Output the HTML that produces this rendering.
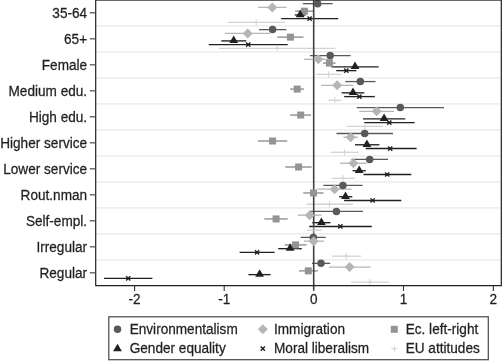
<!DOCTYPE html>
<html><head><meta charset="utf-8"><title>Coefficient plot</title>
<style>
html,body{margin:0;padding:0;background:#fff;}
body{width:502px;height:361px;overflow:hidden;font-family:"Liberation Sans",sans-serif;}
svg{display:block;will-change:transform;opacity:0.999}
text{font-family:"Liberation Sans",sans-serif;font-size:13.6px;fill:#231f20;stroke:#231f20;stroke-width:0.25px}
</style></head><body>
<svg width="502" height="361" viewBox="0 0 502 361">
<rect width="502" height="361" fill="#fff"/>

<g stroke="#eeeff0" stroke-width="1.7">
<line x1="96" y1="25.95" x2="501" y2="25.95"/>
<line x1="96" y1="51.95" x2="501" y2="51.95"/>
<line x1="96" y1="77.95" x2="501" y2="77.95"/>
<line x1="96" y1="103.95" x2="501" y2="103.95"/>
<line x1="96" y1="129.95" x2="501" y2="129.95"/>
<line x1="96" y1="155.95" x2="501" y2="155.95"/>
<line x1="96" y1="181.95" x2="501" y2="181.95"/>
<line x1="96" y1="207.95" x2="501" y2="207.95"/>
<line x1="96" y1="233.95" x2="501" y2="233.95"/>
<line x1="96" y1="259.95" x2="501" y2="259.95"/>
</g>
<line x1="302.8" y1="3.65" x2="332.6" y2="3.65" stroke="#58595b" stroke-width="1.3"/>
<line x1="258.2" y1="7.41" x2="286.6" y2="7.41" stroke="#b3b5b7" stroke-width="1.3"/>
<line x1="295.2" y1="11.17" x2="313.6" y2="11.17" stroke="#929497" stroke-width="1.45"/>
<line x1="294.8" y1="14.93" x2="305.7" y2="14.93" stroke="#231f20" stroke-width="1.35"/>
<line x1="281.2" y1="18.69" x2="338.2" y2="18.69" stroke="#231f20" stroke-width="1.35"/>
<line x1="227.6" y1="22.45" x2="284.8" y2="22.45" stroke="#d1d3d4" stroke-width="1.3"/>
<line x1="259" y1="29.62" x2="286.4" y2="29.62" stroke="#58595b" stroke-width="1.3"/>
<line x1="225.1" y1="33.38" x2="270.3" y2="33.38" stroke="#b3b5b7" stroke-width="1.3"/>
<line x1="277.3" y1="37.14" x2="303.5" y2="37.14" stroke="#929497" stroke-width="1.45"/>
<line x1="221.3" y1="40.9" x2="246.3" y2="40.9" stroke="#231f20" stroke-width="1.35"/>
<line x1="208.8" y1="44.66" x2="287.8" y2="44.66" stroke="#231f20" stroke-width="1.35"/>
<line x1="219" y1="48.42" x2="335.6" y2="48.42" stroke="#d1d3d4" stroke-width="1.3"/>
<line x1="310" y1="55.59" x2="350.6" y2="55.59" stroke="#58595b" stroke-width="1.3"/>
<line x1="303.8" y1="59.35" x2="332.6" y2="59.35" stroke="#b3b5b7" stroke-width="1.3"/>
<line x1="323" y1="63.11" x2="335.6" y2="63.11" stroke="#929497" stroke-width="1.45"/>
<line x1="331.4" y1="66.87" x2="378.6" y2="66.87" stroke="#231f20" stroke-width="1.35"/>
<line x1="336.3" y1="70.63" x2="356.4" y2="70.63" stroke="#231f20" stroke-width="1.35"/>
<line x1="316.2" y1="74.39" x2="341.2" y2="74.39" stroke="#d1d3d4" stroke-width="1.3"/>
<line x1="345.3" y1="81.56" x2="375.5" y2="81.56" stroke="#58595b" stroke-width="1.3"/>
<line x1="321.1" y1="85.32" x2="353.4" y2="85.32" stroke="#b3b5b7" stroke-width="1.3"/>
<line x1="290.2" y1="89.08" x2="304" y2="89.08" stroke="#929497" stroke-width="1.45"/>
<line x1="341.7" y1="92.84" x2="364.3" y2="92.84" stroke="#231f20" stroke-width="1.35"/>
<line x1="344.2" y1="96.6" x2="374.8" y2="96.6" stroke="#231f20" stroke-width="1.35"/>
<line x1="328.4" y1="100.36" x2="341.1" y2="100.36" stroke="#d1d3d4" stroke-width="1.3"/>
<line x1="356.8" y1="107.53" x2="444" y2="107.53" stroke="#58595b" stroke-width="1.3"/>
<line x1="359.3" y1="111.29" x2="394" y2="111.29" stroke="#b3b5b7" stroke-width="1.3"/>
<line x1="290.2" y1="115.05" x2="311" y2="115.05" stroke="#929497" stroke-width="1.45"/>
<line x1="363" y1="118.81" x2="405.3" y2="118.81" stroke="#231f20" stroke-width="1.35"/>
<line x1="364.3" y1="122.57" x2="414.6" y2="122.57" stroke="#231f20" stroke-width="1.35"/>
<line x1="346.8" y1="126.33" x2="383" y2="126.33" stroke="#d1d3d4" stroke-width="1.3"/>
<line x1="336.5" y1="133.5" x2="393" y2="133.5" stroke="#58595b" stroke-width="1.3"/>
<line x1="343.4" y1="137.26" x2="358" y2="137.26" stroke="#b3b5b7" stroke-width="1.3"/>
<line x1="257.9" y1="141.02" x2="287.2" y2="141.02" stroke="#929497" stroke-width="1.45"/>
<line x1="355" y1="144.78" x2="379.4" y2="144.78" stroke="#231f20" stroke-width="1.35"/>
<line x1="365.6" y1="148.54" x2="416.6" y2="148.54" stroke="#231f20" stroke-width="1.35"/>
<line x1="330.8" y1="152.3" x2="358.6" y2="152.3" stroke="#d1d3d4" stroke-width="1.3"/>
<line x1="351.5" y1="159.47" x2="388" y2="159.47" stroke="#58595b" stroke-width="1.3"/>
<line x1="340" y1="163.23" x2="366.6" y2="163.23" stroke="#b3b5b7" stroke-width="1.3"/>
<line x1="285.3" y1="166.99" x2="311.7" y2="166.99" stroke="#929497" stroke-width="1.45"/>
<line x1="352.5" y1="170.75" x2="365.8" y2="170.75" stroke="#231f20" stroke-width="1.35"/>
<line x1="363.5" y1="174.51" x2="411.3" y2="174.51" stroke="#231f20" stroke-width="1.35"/>
<line x1="331.6" y1="178.27" x2="354.7" y2="178.27" stroke="#d1d3d4" stroke-width="1.3"/>
<line x1="323.3" y1="185.44" x2="362.5" y2="185.44" stroke="#58595b" stroke-width="1.3"/>
<line x1="317.3" y1="189.2" x2="351.7" y2="189.2" stroke="#b3b5b7" stroke-width="1.3"/>
<line x1="303.2" y1="192.96" x2="323.5" y2="192.96" stroke="#929497" stroke-width="1.45"/>
<line x1="339.1" y1="196.72" x2="352.3" y2="196.72" stroke="#231f20" stroke-width="1.35"/>
<line x1="344.1" y1="200.48" x2="401.3" y2="200.48" stroke="#231f20" stroke-width="1.35"/>
<line x1="306.5" y1="204.24" x2="352.9" y2="204.24" stroke="#d1d3d4" stroke-width="1.3"/>
<line x1="309.8" y1="211.41" x2="363" y2="211.41" stroke="#58595b" stroke-width="1.3"/>
<line x1="297.7" y1="215.17" x2="321.5" y2="215.17" stroke="#b3b5b7" stroke-width="1.3"/>
<line x1="264.3" y1="218.93" x2="287.7" y2="218.93" stroke="#929497" stroke-width="1.45"/>
<line x1="312.2" y1="222.69" x2="330.4" y2="222.69" stroke="#231f20" stroke-width="1.35"/>
<line x1="309.2" y1="226.45" x2="371.8" y2="226.45" stroke="#231f20" stroke-width="1.35"/>
<line x1="307" y1="230.21" x2="321.8" y2="230.21" stroke="#d1d3d4" stroke-width="1.3"/>
<line x1="300.7" y1="237.38" x2="325.7" y2="237.38" stroke="#58595b" stroke-width="1.3"/>
<line x1="304" y1="241.14" x2="324.2" y2="241.14" stroke="#b3b5b7" stroke-width="1.3"/>
<line x1="284.6" y1="244.9" x2="306.6" y2="244.9" stroke="#929497" stroke-width="1.45"/>
<line x1="278.2" y1="248.66" x2="301.8" y2="248.66" stroke="#231f20" stroke-width="1.35"/>
<line x1="239.6" y1="252.42" x2="274.7" y2="252.42" stroke="#231f20" stroke-width="1.35"/>
<line x1="331.6" y1="256.18" x2="361" y2="256.18" stroke="#d1d3d4" stroke-width="1.3"/>
<line x1="312" y1="263.35" x2="330.2" y2="263.35" stroke="#58595b" stroke-width="1.3"/>
<line x1="329" y1="267.11" x2="370.5" y2="267.11" stroke="#b3b5b7" stroke-width="1.3"/>
<line x1="299" y1="270.87" x2="317.8" y2="270.87" stroke="#929497" stroke-width="1.45"/>
<line x1="248.4" y1="274.63" x2="270.6" y2="274.63" stroke="#231f20" stroke-width="1.35"/>
<line x1="104" y1="278.39" x2="152.4" y2="278.39" stroke="#231f20" stroke-width="1.35"/>
<line x1="351" y1="282.15" x2="389" y2="282.15" stroke="#d1d3d4" stroke-width="1.3"/>
<line x1="313.7" y1="0" x2="313.7" y2="290.8" stroke="#414042" stroke-width="1.6"/>
<path d="M253.10 22.45L259.30 22.45M256.2 19.35L256.2 25.55" stroke="#d1d3d4" stroke-width="1" fill="none"/>
<circle cx="317.6" cy="3.65" r="3.75" fill="#58595b"/>
<path d="M267.3 7.41L272.3 2.41L277.3 7.41L272.3 12.41Z" fill="#b3b5b7"/>
<rect x="300.90" y="7.67" width="7.0" height="7.0" fill="#929497"/>
<path d="M295.80 17.13L304.60 17.13L300.2 9.63Z" fill="#231f20"/>
<path d="M307.50 16.59L311.70 20.79M307.50 20.79L311.70 16.59" stroke="#231f20" stroke-width="1.4" fill="none"/>
<path d="M274.10 48.42L280.30 48.42M277.2 45.32L277.2 51.52" stroke="#d1d3d4" stroke-width="1" fill="none"/>
<circle cx="272.6" cy="29.62" r="3.75" fill="#58595b"/>
<path d="M242.7 33.38L247.7 28.380000000000003L252.7 33.38L247.7 38.38Z" fill="#b3b5b7"/>
<rect x="286.90" y="33.64" width="7.0" height="7.0" fill="#929497"/>
<path d="M229.30 43.10L238.10 43.10L233.7 35.60Z" fill="#231f20"/>
<path d="M246.10 42.56L250.30 46.76M246.10 46.76L250.30 42.56" stroke="#231f20" stroke-width="1.4" fill="none"/>
<path d="M325.50 74.39L331.70 74.39M328.6 71.29L328.6 77.49" stroke="#d1d3d4" stroke-width="1" fill="none"/>
<circle cx="330.2" cy="55.59" r="3.75" fill="#58595b"/>
<path d="M313.3 59.35L318.3 54.35L323.3 59.35L318.3 64.35Z" fill="#b3b5b7"/>
<rect x="325.90" y="59.61" width="7.0" height="7.0" fill="#929497"/>
<path d="M350.60 69.07L359.40 69.07L355 61.57Z" fill="#231f20"/>
<path d="M344.20 68.53L348.40 72.73M344.20 72.73L348.40 68.53" stroke="#231f20" stroke-width="1.4" fill="none"/>
<path d="M331.70 100.36L337.90 100.36M334.8 97.26L334.8 103.46" stroke="#d1d3d4" stroke-width="1" fill="none"/>
<circle cx="360.3" cy="81.56" r="3.75" fill="#58595b"/>
<path d="M332.2 85.32L337.2 80.32L342.2 85.32L337.2 90.32Z" fill="#b3b5b7"/>
<rect x="293.70" y="85.58" width="7.0" height="7.0" fill="#929497"/>
<path d="M348.60 95.04L357.40 95.04L353 87.54Z" fill="#231f20"/>
<path d="M357.30 94.50L361.50 98.70M357.30 98.70L361.50 94.50" stroke="#231f20" stroke-width="1.4" fill="none"/>
<path d="M361.90 126.33L368.10 126.33M365 123.23L365 129.43" stroke="#d1d3d4" stroke-width="1" fill="none"/>
<circle cx="400.3" cy="107.53" r="3.75" fill="#58595b"/>
<path d="M371.6 111.29L376.6 106.29L381.6 111.29L376.6 116.29Z" fill="#b3b5b7"/>
<rect x="297.20" y="111.55" width="7.0" height="7.0" fill="#929497"/>
<path d="M379.70 121.01L388.50 121.01L384.1 113.51Z" fill="#231f20"/>
<path d="M387.20 120.47L391.40 124.67M387.20 124.67L391.40 120.47" stroke="#231f20" stroke-width="1.4" fill="none"/>
<path d="M341.50 152.3L347.70 152.3M344.6 149.20L344.6 155.40" stroke="#d1d3d4" stroke-width="1" fill="none"/>
<circle cx="364.7" cy="133.5" r="3.75" fill="#58595b"/>
<path d="M345.6 137.26L350.6 132.26L355.6 137.26L350.6 142.26Z" fill="#b3b5b7"/>
<rect x="269.10" y="137.52" width="7.0" height="7.0" fill="#929497"/>
<path d="M362.50 146.98L371.30 146.98L366.9 139.48Z" fill="#231f20"/>
<path d="M388.10 146.44L392.30 150.64M388.10 150.64L392.30 146.44" stroke="#231f20" stroke-width="1.4" fill="none"/>
<path d="M339.90 178.27L346.10 178.27M343 175.17L343 181.37" stroke="#d1d3d4" stroke-width="1" fill="none"/>
<circle cx="369.7" cy="159.47" r="3.75" fill="#58595b"/>
<path d="M348.4 163.23L353.4 158.23L358.4 163.23L353.4 168.23Z" fill="#b3b5b7"/>
<rect x="295.10" y="163.49" width="7.0" height="7.0" fill="#929497"/>
<path d="M354.80 172.95L363.60 172.95L359.2 165.45Z" fill="#231f20"/>
<path d="M385.10 172.41L389.30 176.61M385.10 176.61L389.30 172.41" stroke="#231f20" stroke-width="1.4" fill="none"/>
<path d="M326.40 204.24L332.60 204.24M329.5 201.14L329.5 207.34" stroke="#d1d3d4" stroke-width="1" fill="none"/>
<circle cx="342.9" cy="185.44" r="3.75" fill="#58595b"/>
<path d="M329.6 189.2L334.6 184.2L339.6 189.2L334.6 194.2Z" fill="#b3b5b7"/>
<rect x="310.00" y="189.46" width="7.0" height="7.0" fill="#929497"/>
<path d="M341.10 198.92L349.90 198.92L345.5 191.42Z" fill="#231f20"/>
<path d="M370.50 198.38L374.70 202.58M370.50 202.58L374.70 198.38" stroke="#231f20" stroke-width="1.4" fill="none"/>
<path d="M310.90 230.21L317.10 230.21M314 227.11L314 233.31" stroke="#d1d3d4" stroke-width="1" fill="none"/>
<circle cx="336.4" cy="211.41" r="3.75" fill="#58595b"/>
<path d="M304.7 215.17L309.7 210.17L314.7 215.17L309.7 220.17Z" fill="#b3b5b7"/>
<rect x="272.60" y="215.43" width="7.0" height="7.0" fill="#929497"/>
<path d="M317.00 224.89L325.80 224.89L321.4 217.39Z" fill="#231f20"/>
<path d="M338.30 224.35L342.50 228.55M338.30 228.55L342.50 224.35" stroke="#231f20" stroke-width="1.4" fill="none"/>
<path d="M343.10 256.18L349.30 256.18M346.2 253.08L346.2 259.28" stroke="#d1d3d4" stroke-width="1" fill="none"/>
<circle cx="313.3" cy="237.38" r="3.75" fill="#58595b"/>
<path d="M308.7 241.14L313.7 236.14L318.7 241.14L313.7 246.14Z" fill="#b3b5b7"/>
<rect x="292.00" y="241.40" width="7.0" height="7.0" fill="#929497"/>
<path d="M285.70 250.86L294.50 250.86L290.1 243.36Z" fill="#231f20"/>
<path d="M255.00 250.32L259.20 254.52M255.00 254.52L259.20 250.32" stroke="#231f20" stroke-width="1.4" fill="none"/>
<path d="M366.90 282.15L373.10 282.15M370 279.05L370 285.25" stroke="#d1d3d4" stroke-width="1" fill="none"/>
<circle cx="321" cy="263.35" r="3.75" fill="#58595b"/>
<path d="M344.7 267.11L349.7 262.11L354.7 267.11L349.7 272.11Z" fill="#b3b5b7"/>
<rect x="304.80" y="267.37" width="7.0" height="7.0" fill="#929497"/>
<path d="M255.20 276.83L264.00 276.83L259.6 269.33Z" fill="#231f20"/>
<path d="M126.10 276.29L130.30 280.49M126.10 280.49L130.30 276.29" stroke="#231f20" stroke-width="1.4" fill="none"/>
<path d="M95.7 0V285.65H501.3V0" fill="none" stroke="#231f20" stroke-width="1.2"/>
<line x1="95.1" y1="0.35" x2="501.1" y2="0.35" stroke="#231f20" stroke-width="0.8"/>
<g stroke="#58595b" stroke-width="1.3">
<line x1="89.8" y1="12.80" x2="95.4" y2="12.80"/>
<line x1="89.8" y1="38.80" x2="95.4" y2="38.80"/>
<line x1="89.8" y1="64.80" x2="95.4" y2="64.80"/>
<line x1="89.8" y1="90.80" x2="95.4" y2="90.80"/>
<line x1="89.8" y1="116.80" x2="95.4" y2="116.80"/>
<line x1="89.8" y1="142.80" x2="95.4" y2="142.80"/>
<line x1="89.8" y1="168.80" x2="95.4" y2="168.80"/>
<line x1="89.8" y1="194.80" x2="95.4" y2="194.80"/>
<line x1="89.8" y1="220.80" x2="95.4" y2="220.80"/>
<line x1="89.8" y1="246.80" x2="95.4" y2="246.80"/>
<line x1="89.8" y1="272.80" x2="95.4" y2="272.80"/>
<line x1="134.6" y1="285.4" x2="134.6" y2="290.9" stroke="#303031" stroke-width="1.1"/>
<line x1="224.2" y1="285.4" x2="224.2" y2="290.9" stroke="#303031" stroke-width="1.1"/>
<line x1="403.5" y1="285.4" x2="403.5" y2="290.9" stroke="#303031" stroke-width="1.1"/>
<line x1="493.35" y1="285.4" x2="493.35" y2="290.9" stroke="#303031" stroke-width="1.1"/>
</g>
<text transform="translate(87.1,17.70) scale(1,1.07)" text-anchor="end">35-64</text>
<text transform="translate(87.1,43.70) scale(1,1.07)" text-anchor="end">65+</text>
<text transform="translate(87.1,69.70) scale(1,1.07)" text-anchor="end">Female</text>
<text transform="translate(87.1,95.70) scale(1,1.07)" text-anchor="end">Medium edu.</text>
<text transform="translate(87.1,121.70) scale(1,1.07)" text-anchor="end">High edu.</text>
<text transform="translate(87.1,147.70) scale(1,1.07)" text-anchor="end">Higher service</text>
<text transform="translate(87.1,173.70) scale(1,1.07)" text-anchor="end">Lower service</text>
<text transform="translate(87.1,199.70) scale(1,1.07)" text-anchor="end">Rout.nman</text>
<text transform="translate(87.1,225.70) scale(1,1.07)" text-anchor="end">Self-empl.</text>
<text transform="translate(87.1,251.70) scale(1,1.07)" text-anchor="end">Irregular</text>
<text transform="translate(87.1,277.70) scale(1,1.07)" text-anchor="end">Regular</text>
<text transform="translate(134.6,304.2) scale(1,1.07)" text-anchor="middle">-2</text>
<text transform="translate(224.2,304.2) scale(1,1.07)" text-anchor="middle">-1</text>
<text transform="translate(313.8,304.2) scale(1,1.07)" text-anchor="middle">0</text>
<text transform="translate(403.5,304.2) scale(1,1.07)" text-anchor="middle">1</text>
<text transform="translate(493.3,304.2) scale(1,1.07)" text-anchor="middle">2</text>
<rect x="108.8" y="316.8" width="379.5" height="42.9" fill="#fff" stroke="#4d4d4f" stroke-width="1.25"/>
<circle cx="117.5" cy="329.3" r="3.75" fill="#58595b"/>
<text transform="translate(129.7,333.7) scale(1,1.07)">Environmentalism</text>
<path d="M257.8 329.3L262.8 324.3L267.8 329.3L262.8 334.3Z" fill="#b3b5b7"/>
<text transform="translate(274.0,333.7) scale(1,1.07)">Immigration</text>
<rect x="390.80" y="325.80" width="7.0" height="7.0" fill="#929497"/>
<text transform="translate(405.7,333.7) scale(1,1.07)">Ec. left-right</text>
<path d="M113.10 351.20L121.90 351.20L117.5 343.70Z" fill="#231f20"/>
<text transform="translate(129.7,352.8) scale(1,1.07)">Gender equality</text>
<path d="M260.70 346.60L264.90 350.80M260.70 350.80L264.90 346.60" stroke="#231f20" stroke-width="1.4" fill="none"/>
<text transform="translate(274.0,352.8) scale(1,1.07)">Moral liberalism</text>
<path d="M391.20 348.7L397.40 348.7M394.3 345.60L394.3 351.80" stroke="#d1d3d4" stroke-width="1" fill="none"/>
<text transform="translate(405.7,352.8) scale(1,1.07)">EU attitudes</text>
</svg></body></html>
